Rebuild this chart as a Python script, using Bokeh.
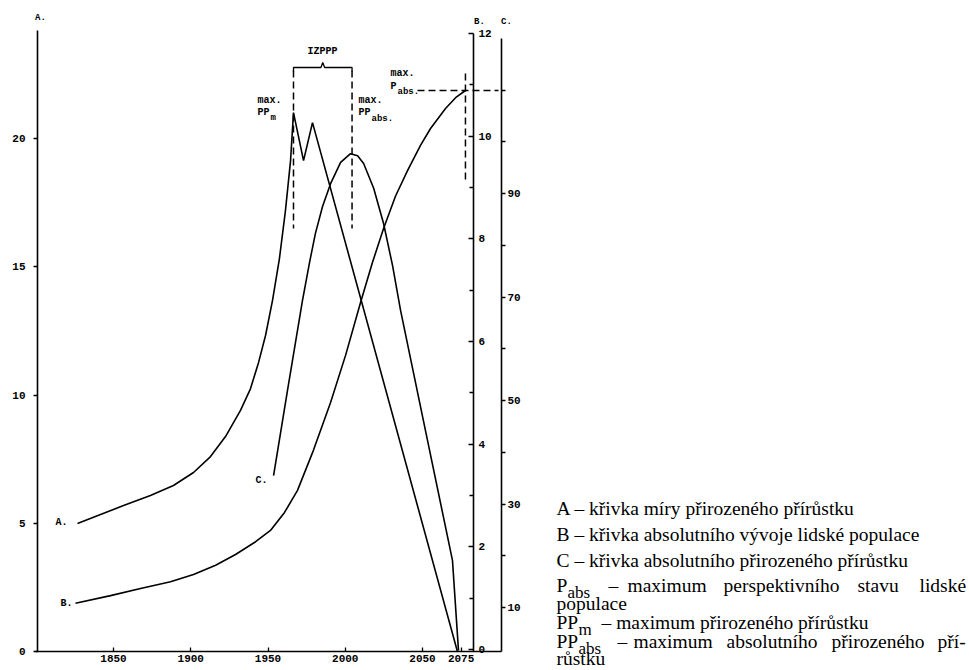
from bokeh.plotting import figure
from bokeh.models import Range1d, LinearAxis, FixedTicker, Label
from bokeh.embed import file_html
from bokeh.resources import INLINE

# ---------------- data ----------------
# A: rate of natural increase (left axis A)
years_a = [1826.7, 1841.6, 1856.5, 1873.9, 1888.8, 1901.8, 1912.8, 1922.5, 1932.2, 1938.7, 1943.9,
           1948.4, 1952.9, 1957.4, 1961.3, 1964.6, 1966.5, 1973.0, 1978.8, 2072.6]
rate_a = [4.99, 5.34, 5.69, 6.08, 6.47, 6.98, 7.60, 8.38, 9.40, 10.25, 11.27,
          12.32, 13.68, 15.32, 17.19, 19.14, 21.01, 19.14, 20.62, 0.0]
# B: absolute population (axis B)
years_b = [1825.4, 1848.1, 1867.5, 1886.9, 1901.8, 1916.1, 1929.0, 1942.0, 1951.6, 1960.7, 1969.1, 1979.4,
           1990.5, 2000.2, 2009.9, 2017.6, 2024.8, 2032.5, 2040.3, 2048.7, 2055.2, 2064.9, 2071.4, 2077.8]
pop_b = [0.90, 1.05, 1.19, 1.32, 1.46, 1.64, 1.85, 2.10, 2.32, 2.67, 3.10, 3.88,
         4.81, 5.73, 6.76, 7.54, 8.20, 8.83, 9.33, 9.82, 10.15, 10.54, 10.75, 10.89]
# C: absolute natural increase (axis C)
years_c = [1953.6, 1962.6, 1972.3, 1976.9, 1980.7, 1985.3, 1990.5, 1997.0, 2003.4, 2008.0, 2011.9,
           2018.4, 2024.8, 2030.6, 2035.8, 2052.6, 2069.4, 2073.3]
incr_c = [35.5, 51.9, 69.3, 76.7, 82.3, 87.5, 91.9, 96.0, 97.7, 97.3, 95.8,
          91.0, 84.2, 76.1, 67.4, 43.2, 19.1, 1.7]

x_ticks = [1850, 1900, 1950, 2000, 2050, 2075]
a_ticks = [0, 5, 10, 15, 20]
b_ticks = [0, 2, 4, 6, 8, 10, 12]
b_minor = [1, 3, 5, 7, 9, 11]
c_ticks = [10, 30, 50, 70, 90]
c_minor = [20, 40, 60, 80, 100, 110]

legend_lines = [
    "A – křivka míry přirozeného přírůstku",
    "B – křivka absolutního vývoje lidské populace",
    "C – křivka absolutního přirozeného přírůstku",
]

# ---------------- geometry (page pixels -> data) ----------------
W, H = 969, 670


def X(px):          # page x -> year
    return 1850 + (px - 113) / 1.545


def Y(py):          # page y -> axis A units
    return (651 - py) / 25.65


def YB(py):         # page y -> axis B units
    return (649 - py) / 51.33


def YC(py):         # page y -> axis C units
    return 10 + (607 - py) / 5.175


p = figure(width=W, height=H, x_range=Range1d(X(0), X(W)), y_range=Range1d(Y(H), Y(0)),
           output_backend="svg", toolbar_location=None,
           min_border_left=0, min_border_right=0, min_border_top=0, min_border_bottom=0)
p.extra_y_ranges = {"B": Range1d(YB(H), YB(0)), "C": Range1d(YC(H), YC(0))}
p.grid.visible = False
p.outline_line_color = None
p.background_fill_color = "white"
p.border_fill_color = "white"

MONO = "Liberation Mono"


def style_axis(ax, size="11px"):
    ax.axis_line_color = "black"
    ax.axis_line_width = 1.6
    ax.major_tick_line_color = "black"
    ax.major_tick_line_width = 1.3
    ax.minor_tick_line_color = "black"
    ax.minor_tick_line_width = 1.3
    ax.major_label_text_font = MONO
    ax.major_label_text_font_style = "bold"
    ax.major_label_text_font_size = size
    ax.major_label_text_color = "black"


xa = p.xaxis[0]
xa.fixed_location = 0
xa.bounds = (X(35), X(501))
xa.ticker = FixedTicker(ticks=x_ticks)
xa.major_tick_in, xa.major_tick_out = 4, 0
xa.minor_tick_in = xa.minor_tick_out = 0
xa.major_label_standoff = 3
style_axis(xa)

ya = p.yaxis[0]
ya.fixed_location = X(37)
ya.bounds = (0, Y(30))
ya.ticker = FixedTicker(ticks=a_ticks)
ya.major_tick_in, ya.major_tick_out = 0, 4
ya.minor_tick_in = ya.minor_tick_out = 0
ya.major_label_standoff = 8
style_axis(ya)

b_axis = LinearAxis(y_range_name="B", fixed_location=X(473), bounds=(YB(651), YB(33)),
                    ticker=FixedTicker(ticks=b_ticks, minor_ticks=b_minor))
b_axis.major_tick_in, b_axis.major_tick_out = 5, 0
b_axis.minor_tick_in, b_axis.minor_tick_out = 4, 0
b_axis.major_label_standoff = 5
style_axis(b_axis)
p.add_layout(b_axis, "right")

c_axis = LinearAxis(y_range_name="C", fixed_location=X(501), bounds=(YC(651), YC(38)),
                    ticker=FixedTicker(ticks=c_ticks, minor_ticks=c_minor))
c_axis.major_tick_in, c_axis.major_tick_out = 0, 4
c_axis.minor_tick_in, c_axis.minor_tick_out = 0, 4
c_axis.major_label_standoff = 2
style_axis(c_axis)
p.add_layout(c_axis, "right")

# ---------------- curves ----------------
p.line(years_a, rate_a, line_color="black", line_width=1.6)
p.line(years_b, pop_b, line_color="black", line_width=1.6, y_range_name="B")
p.line(years_c, incr_c, line_color="black", line_width=1.6, y_range_name="C")

# ---------------- annotations ----------------
ppm_year = years_a[rate_a.index(max(rate_a))]
ppabs_year = years_c[incr_c.index(max(incr_c))] + 1
pabs_year = years_b[-1]
DASH = "7 4"
for yr in (ppm_year, ppabs_year):
    p.line([yr, yr], [Y(70), Y(228)], line_color="black", line_width=1.5, line_dash=DASH)
mid = (ppm_year + ppabs_year) / 2
p.line([ppm_year, ppm_year, mid - 1.2, mid, mid + 1.2, ppabs_year, ppabs_year],
       [Y(71), Y(67), Y(67), Y(62), Y(67), Y(67), Y(71)], line_color="black", line_width=1.3)
p.line([pabs_year, pabs_year], [Y(73), Y(182)], line_color="black", line_width=1.5, line_dash=DASH)
p.line([X(417), X(498)], [max(pop_b), max(pop_b)], line_color="black", line_width=1.3,
       line_dash=DASH, y_range_name="B")


def lab(px, py, text, size=10, font=MONO, align="left", bold=True):
    p.add_layout(Label(x=X(px), y=Y(py), text=text, text_font=font, text_font_size=f"{size}px",
                       text_align=align, text_baseline="middle",
                       text_font_style="bold" if bold else "normal", text_color="black"))


lab(322, 51, "IZPPP", align="center")
lab(257, 100, "max.")
lab(257, 112, "PP")
lab(270, 117, "m", size=9)
lab(358, 100, "max.")
lab(358, 112, "PP")
lab(371, 118, "abs.", size=9)
lab(390, 73, "max.")
lab(390, 86, "P")
lab(397, 91, "abs.", size=9)
lab(67, 522, "A.", align="right")
lab(72, 603, "B.", align="right")
lab(267, 480, "C.", align="right")
lab(40, 17, "A.", align="center", size=9)
lab(479, 21, "B.", align="center", size=9)
lab(506, 21, "C.", align="center", size=9)

SERIF = "Liberation Serif"
LS = 19.5
SUB = 17


def leg(px, py, text, size=LS):
    lab(px, py, text, size=size, font=SERIF, bold=False)


for t, yy in zip(legend_lines, [508, 534, 560]):
    leg(556, yy, t)
leg(556, 585, "P")
leg(567, 592, "abs", SUB)
for px, w in [(608, "–"), (627, "maximum"), (723, "perspektivního"), (857, "stavu"), (919, "lidské")]:
    leg(px, 585, w)
leg(556, 603, "populace")
leg(556, 622, "PP")
leg(578, 629, "m", SUB)
leg(601, 622, "– maximum přirozeného přírůstku")
leg(556, 641, "PP")
leg(578, 648, "abs", SUB)
for px, w in [(617, "–"), (633, "maximum"), (726, "absolutního"), (831, "přirozeného"), (937, "pří-")]:
    leg(px, 641, w)
leg(556, 658, "růstku")

open("out.html", "w").write(file_html(p, INLINE))
